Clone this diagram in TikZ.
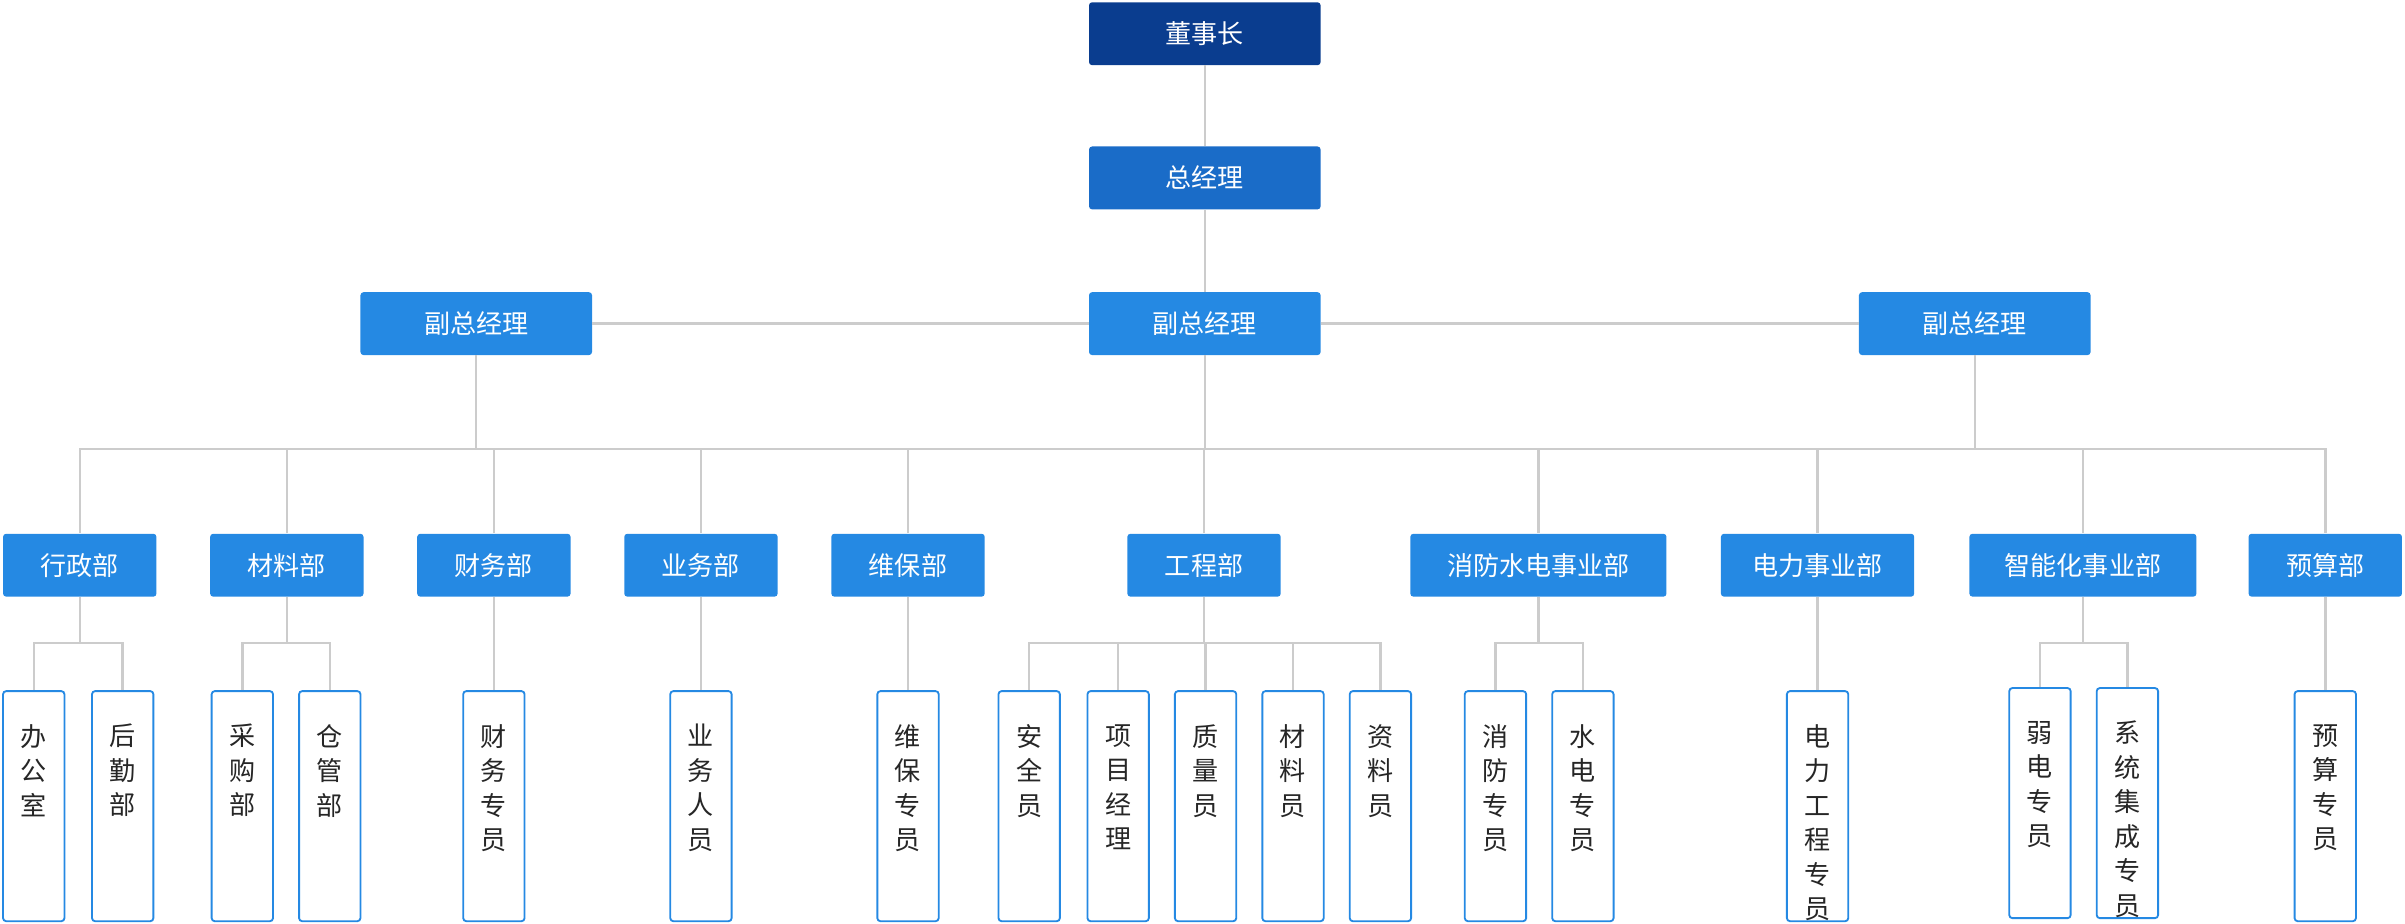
\documentclass[tikz,border=0pt]{standalone}
\usepackage{fontspec}
\setmainfont{Noto Sans CJK SC}
\definecolor{topblue}{HTML}{0A3D8F}
\definecolor{midblue}{HTML}{1A6CC8}
\definecolor{boxblue}{HTML}{2589E3}
\definecolor{linegray}{HTML}{CCCCCC}
\begin{document}
\begin{tikzpicture}[
	                  x = 1pt,
	                  y = -1pt,
	        box/.style = {fill=boxblue, text=white, rounded corners=2pt, minimum height=41pt, inner sep=0pt, font=\fontsize{17}{20}\selectfont},
	        vp/.style = {box, minimum width=151pt},
	      dept/.style = {box, minimum width=100pt},
	      leaf/.style = {draw=boxblue, line width=1.2pt, fill=white, rounded corners=2pt, minimum width=40pt, minimum height=150pt, anchor=north, inner sep=0pt},
	     vtext/.style = {anchor=north, align=center, inner sep=0pt, font=\fontsize{17}{22.5}\selectfont, text=black!85},
	      line/.style = {draw=linegray, line width=1.6pt},
	                    ]
		\useasboundingbox (0,0) rectangle (1568,602);
		% top
		\node[vp, fill=topblue] (dsz) at (785.5,22) {董事长};
		\node[vp, fill=midblue] (zjl) at (785.5,116) {总经理};
		\node[vp] (vpl) at (310.5,211) {副总经理};
		\node[vp] (vpc) at (785.5,211) {副总经理};
		\node[vp] (vpr) at (1287.5,211) {副总经理};
		\draw[line] (dsz) -- (zjl);
		\draw[line] (zjl) -- (vpc);
		\draw[line] (vpl) -- (vpc) -- (vpr);
		% departments
		\foreach \name/\x/\w/\txt in {xz/52/100/行政部, cl/187/100/材料部, cw/322/100/财务部, yw/457/100/业务部, wb/592/100/维保部, gc/785/100/工程部, xf/1003/167/消防水电事业部, dl/1185/126/电力事业部, zn/1358/148/智能化事业部, ys/1516/100/预算部}
			\node[dept, minimum width=\w pt] (\name) at (\x,368.5) {\txt};
		\draw[line] (vpl.south) -- ++(0,61) coordinate (busl);
		\draw[line] (vpc.south) -- ++(0,61) coordinate (busc);
		\draw[line] (vpr.south) -- ++(0,61) coordinate (busr);
		\foreach \name in {xz,cl,cw,yw,wb,gc,xf,dl,zn,ys}
			\draw[line] (busc) -| (\name.north);
		% staff
		\foreach \name/\up/\x/\y/\txt in {
			bgs/xz/22/450/办\\公\\室, hq/xz/80/450/后\\勤\\部,
			cg/cl/158/450/采\\购\\部, cgb/cl/215/450/仓\\管\\部,
			cwzy/cw/322/450/财\\务\\专\\员, ywry/yw/457/450/业\\务\\人\\员,
			wbzy/wb/592/450/维\\保\\专\\员,
			aq/gc/671/450/安\\全\\员, xmjl/gc/729/450/项\\目\\经\\理, zl/gc/786/450/质\\量\\员,
			cly/gc/843/450/材\\料\\员, zly/gc/900/450/资\\料\\员,
			xfzy/xf/975/450/消\\防\\专\\员, sdzy/xf/1032/450/水\\电\\专\\员,
			dlgc/dl/1185/450/电\\力\\工\\程\\专\\员,
			rd/zn/1330/448/弱\\电\\专\\员, xtjc/zn/1387/448/系\\统\\集\\成\\专\\员,
			yszy/ys/1516/450/预\\算\\专\\员}
		{
			\node[leaf] (\name) at (\x,\y) {};
			\node[vtext] at ([yshift=-22pt]\name.north) {\txt};
			\draw[line] (\up.south) -- ++(0,30) -| (\name.north);
		}
\end{tikzpicture}
\end{document}
